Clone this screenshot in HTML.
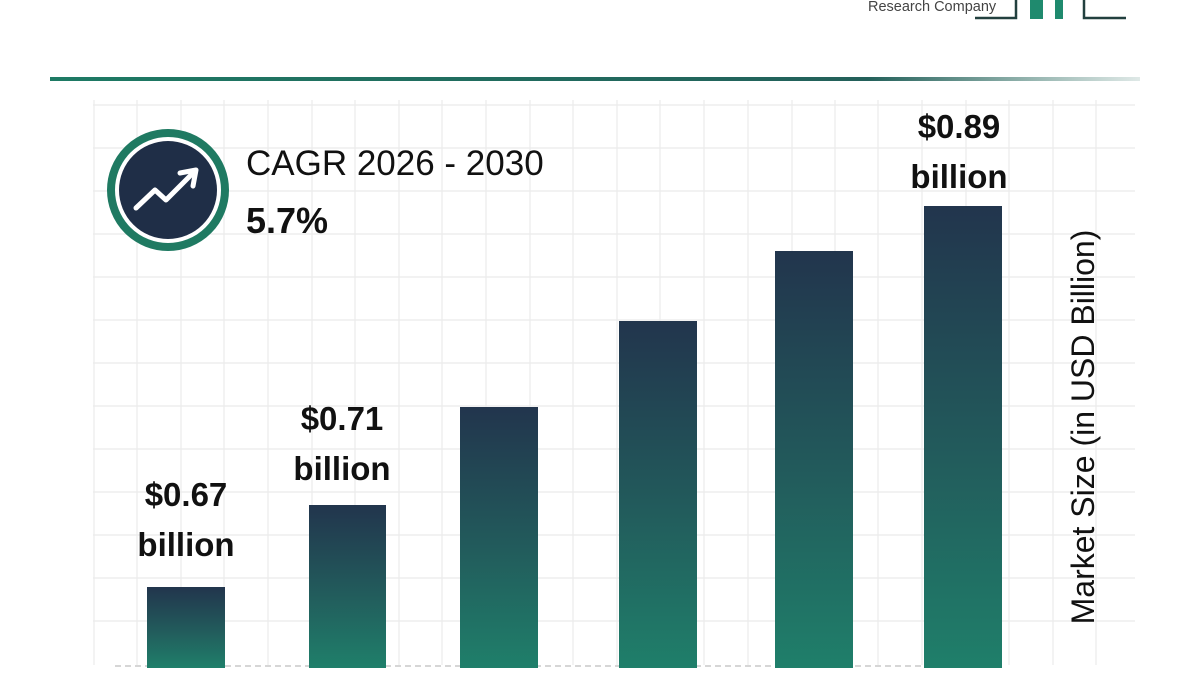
<!DOCTYPE html>
<html><head><meta charset="utf-8"><style>
html,body{margin:0;padding:0;background:#fff;}
body{width:1200px;height:675px;position:relative;overflow:hidden;font-family:"Liberation Sans",sans-serif;}
.lbl{position:absolute;text-align:center;font-weight:bold;font-size:33px;line-height:50px;color:#111;width:200px;}
</style></head><body>
<svg width="1200" height="675" style="position:absolute;left:0;top:0">
<defs>
<linearGradient id="bg" x1="0" y1="0" x2="0" y2="1">
<stop offset="0" stop-color="#22354d"/><stop offset="0.55" stop-color="#225c5c"/><stop offset="1" stop-color="#1f7f6a"/></linearGradient>
<linearGradient id="lg" x1="0" y1="0" x2="1" y2="0">
<stop offset="0" stop-color="#1e7a64"/><stop offset="0.75" stop-color="#23605a"/><stop offset="1" stop-color="#2a6b5e" stop-opacity="0.15"/></linearGradient>
</defs>
<g stroke="#ebebeb" stroke-width="1.2">
<line x1="93" y1="105" x2="1135" y2="105"/><line x1="93" y1="148" x2="1135" y2="148"/><line x1="93" y1="191" x2="1135" y2="191"/><line x1="93" y1="234" x2="1135" y2="234"/><line x1="93" y1="277" x2="1135" y2="277"/><line x1="93" y1="320" x2="1135" y2="320"/><line x1="93" y1="363" x2="1135" y2="363"/><line x1="93" y1="406" x2="1135" y2="406"/><line x1="93" y1="449" x2="1135" y2="449"/><line x1="93" y1="492" x2="1135" y2="492"/><line x1="93" y1="535" x2="1135" y2="535"/><line x1="93" y1="578" x2="1135" y2="578"/><line x1="93" y1="621" x2="1135" y2="621"/>
<line x1="94" y1="100" x2="94" y2="665"/><line x1="137" y1="100" x2="137" y2="665"/><line x1="181" y1="100" x2="181" y2="665"/><line x1="224" y1="100" x2="224" y2="665"/><line x1="268" y1="100" x2="268" y2="665"/><line x1="312" y1="100" x2="312" y2="665"/><line x1="355" y1="100" x2="355" y2="665"/><line x1="399" y1="100" x2="399" y2="665"/><line x1="442" y1="100" x2="442" y2="665"/><line x1="486" y1="100" x2="486" y2="665"/><line x1="530" y1="100" x2="530" y2="665"/><line x1="573" y1="100" x2="573" y2="665"/><line x1="617" y1="100" x2="617" y2="665"/><line x1="660" y1="100" x2="660" y2="665"/><line x1="704" y1="100" x2="704" y2="665"/><line x1="748" y1="100" x2="748" y2="665"/><line x1="792" y1="100" x2="792" y2="665"/><line x1="835" y1="100" x2="835" y2="665"/><line x1="878" y1="100" x2="878" y2="665"/><line x1="922" y1="100" x2="922" y2="665"/><line x1="966" y1="100" x2="966" y2="665"/><line x1="1009" y1="100" x2="1009" y2="665"/><line x1="1053" y1="100" x2="1053" y2="665"/><line x1="1096" y1="100" x2="1096" y2="665"/>
</g>
<line x1="115" y1="666" x2="1005" y2="666" stroke="#c8c8c8" stroke-width="1.5" stroke-dasharray="6,4"/>
<rect x="50" y="77" width="1090" height="4" fill="url(#lg)"/>
<g fill="url(#bg)">
<rect x="147" y="587" width="78" height="81"/>
<rect x="309" y="505" width="77" height="163"/>
<rect x="460" y="407" width="78" height="261"/>
<rect x="619" y="321" width="78" height="347"/>
<rect x="775" y="251" width="78" height="417"/>
<rect x="924" y="206" width="78" height="462"/>
</g>
<circle cx="168" cy="190" r="57" fill="#fff" stroke="#1f7a62" stroke-width="8"/>
<circle cx="168" cy="190" r="49" fill="#1f2e47"/>
<polyline points="136,208 155,190 166,200 192,174" fill="none" stroke="#fff" stroke-width="5" stroke-linecap="round" stroke-linejoin="round"/>
<polyline points="180,173 196,170 193,186" fill="none" stroke="#fff" stroke-width="5" stroke-linecap="round" stroke-linejoin="round"/>
<g stroke="#22403f" stroke-width="2.5" fill="none">
<polyline points="975,18 1016,18 1016,0"/>
<polyline points="1084,0 1084,18 1126,18"/>
</g>
<rect x="1030" y="0" width="13" height="19" fill="#1f8a6e"/>
<rect x="1055" y="0" width="8" height="19" fill="#1f8a6e"/>
<text x="868" y="11" font-size="14.5" fill="#444" font-family="Liberation Sans, sans-serif">Research Company</text>
<text transform="translate(1094,427) rotate(-90)" text-anchor="middle" font-size="32" fill="#111" font-family="Liberation Sans, sans-serif">Market Size (in USD Billion)</text>
<text x="246" y="175" font-size="35" fill="#111" font-family="Liberation Sans, sans-serif">CAGR 2026 - 2030</text>
<text x="246" y="233" font-size="36" font-weight="bold" fill="#111" font-family="Liberation Sans, sans-serif">5.7%</text>
</svg>
<div class="lbl" style="left:86px;top:470px">$0.67<br>billion</div>
<div class="lbl" style="left:242px;top:394px">$0.71<br>billion</div>
<div class="lbl" style="left:859px;top:102px">$0.89<br>billion</div>
</body></html>
